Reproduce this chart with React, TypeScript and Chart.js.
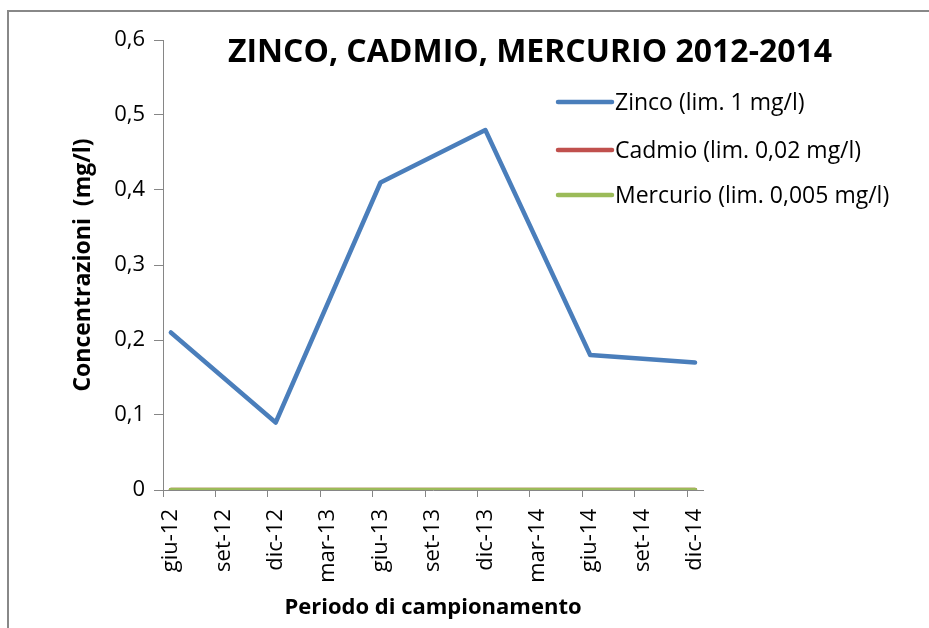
import React, { useEffect, useRef } from "react";
import { Chart, registerables } from "chart.js";

Chart.register(...registerables);

const periods = ["giu-12", "set-12", "dic-12", "mar-13", "giu-13", "set-13", "dic-13", "mar-14", "giu-14", "set-14", "dic-14"];
const zinco = [0.21, null, 0.09, null, 0.41, null, 0.48, null, 0.18, null, 0.17];
const cadmio = [0, null, 0, null, 0, null, 0, null, 0, null, 0];
const mercurio = [0, null, 0, null, 0, null, 0, null, 0, null, 0];
const seriesNames = ["Zinco (lim. 1 mg/l)", "Cadmio (lim. 0,02 mg/l)", "Mercurio (lim. 0,005 mg/l)"];
const seriesColors = ["#4A7EBB", "#C0504D", "#9BBB59"];
const yTicks = [0, 0.1, 0.2, 0.3, 0.4, 0.5, 0.6];
const titleText = "ZINCO, CADMIO, MERCURIO 2012-2014";
const yTitle = "Concentrazioni  (mg/l)";
const xTitle = "Periodo di campionamento";

const FONT = "'Open Sans'";
const TICK_SHIFT = 0.15;

const toPoints = (arr: (number | null)[]) => arr.map((y, i) => ({ x: i, y }));

const overlayPlugin = {
  id: "overlay",
  afterDraw(chart: any) {
    const ctx = chart.ctx;
    ctx.save();
    ctx.fillStyle = "#000";
    ctx.textBaseline = "middle";
    ctx.textAlign = "center";
    ctx.font = `bold 32px ${FONT}`;
    ctx.fillText(titleText, 521, 41);
    const rows = [90, 138, 183];
    chart.data.datasets.forEach((ds: any, i: number) => {
      const y = rows[i];
      ctx.strokeStyle = ds.borderColor;
      ctx.lineWidth = 4.5;
      ctx.lineCap = "round";
      ctx.beginPath();
      ctx.moveTo(549, y);
      ctx.lineTo(603, y);
      ctx.stroke();
      ctx.textAlign = "left";
      ctx.font = `23px ${FONT}`;
      ctx.fillStyle = "#000";
      ctx.fillText(ds.label, 606, y + 1);
    });
    ctx.restore();
  },
};

export default function App() {
  const ref = useRef<HTMLCanvasElement>(null);
  useEffect(() => {
    if (!ref.current) return;
    const mk = (data: (number | null)[], i: number, order: number) => ({
      label: seriesNames[i],
      data: toPoints(data),
      borderColor: seriesColors[i],
      backgroundColor: seriesColors[i],
      borderWidth: 4.5,
      pointRadius: 0,
      borderCapStyle: "round",
      borderJoinStyle: "round",
      spanGaps: true,
      tension: 0,
      order,
    });
    const xMin = -TICK_SHIFT;
    const xMax = 10.152;
    const chart = new Chart(ref.current, {
      type: "line",
      data: {
        datasets: [mk(zinco, 0, 0), mk(cadmio, 1, 2), mk(mercurio, 2, 1)] as any,
      },
      options: {
        animation: false,
        responsive: false,
        layout: { padding: { left: 50, top: 28, right: 226, bottom: 0 } },
        plugins: { legend: { display: false }, title: { display: false }, tooltip: { enabled: false } },
        scales: {
          xt: {
            type: "linear",
            position: "bottom",
            weight: -1,
            min: xMin,
            max: xMax,
            afterBuildTicks: (s: any) => {
              s.ticks = periods.map((_, i) => ({ value: i - TICK_SHIFT }));
            },
            afterFit: (s: any) => {
              s.height = 0;
            },
            border: { color: "#868686", width: 1 },
            grid: { drawOnChartArea: false, drawTicks: true, tickLength: 7, tickColor: "#868686" },
            ticks: { display: false },
          },
          x: {
            type: "linear",
            position: "bottom",
            weight: 0,
            min: xMin,
            max: xMax,
            afterBuildTicks: (s: any) => {
              s.ticks = periods.map((_, i) => ({ value: i }));
            },
            afterFit: (s: any) => {
              s.height = 138;
            },
            border: { display: false },
            grid: { display: false, drawOnChartArea: false, drawTicks: false },
            ticks: {
              autoSkip: false,
              maxRotation: 90,
              minRotation: 90,
              padding: 19,
              color: "#000",
              font: { family: FONT, size: 22 },
              callback: (v: any) => periods[v as number] ?? "",
            },
            title: {
              display: true,
              text: xTitle,
              color: "#000",
              font: { family: FONT, size: 22, weight: "bold" },
              padding: { top: 0, bottom: 6.8 },
            },
          },
          y: {
            min: 0,
            max: 0.6,
            afterBuildTicks: (s: any) => {
              s.ticks = yTicks.map((v) => ({ value: v }));
            },
            afterFit: (s: any) => {
              s.width = 104;
            },
            border: { color: "#868686", width: 1 },
            grid: { drawOnChartArea: false, drawTicks: true, tickLength: 9, tickColor: "#868686" },
            ticks: {
              padding: 9,
              color: "#000",
              font: { family: FONT, size: 22 },
              callback: (v: any) => (v === 0 ? "0" : Number(v).toFixed(1).replace(".", ",")),
            },
            title: {
              display: true,
              text: yTitle,
              color: "#000",
              font: { family: FONT, size: 23, weight: "bold" },
              padding: { top: 10.2, bottom: 0 },
            },
          },
        },
      },
      plugins: [overlayPlugin],
    } as any);
    return () => chart.destroy();
  }, []);

  return (
    <div
      style={{
        position: "fixed",
        left: 7,
        top: 10,
        width: 922,
        height: 618,
        borderTop: "2px solid #888",
        borderLeft: "2px solid #888",
        overflow: "hidden",
        background: "#fff",
      }}
    >
      <canvas ref={ref} width={920} height={616} style={{ display: "block" }} />
    </div>
  );
}
